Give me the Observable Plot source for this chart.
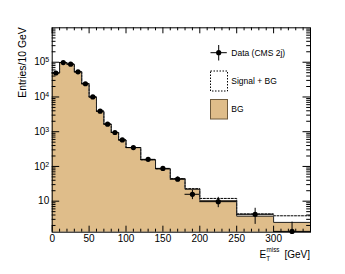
<!DOCTYPE html>
<html><head><meta charset="utf-8">
<script src="https://cdn.jsdelivr.net/npm/d3@7"></script>
<script src="https://cdn.jsdelivr.net/npm/@observablehq/plot@0.6"></script>
<style>
body{margin:0;background:#fff;}
#wrap{position:relative;width:345px;height:274px;font-family:"Liberation Sans",Arial,Helvetica,sans-serif;}
</style></head><body><div id="wrap"></div>
<script>
// ---- data ----
const binEdges   = [0,10,20,30,40,50,60,70,80,90,100,120,140,160,180,200,250,300,350];
const dataCounts = [49000,98000,88000,53000,24000,10000,3900,1650,950,580,350,160,88,43,15.8,9.7,4.2,1.35];
const dataErrors = [220,310,300,230,155,100,62,41,31,24,19,13,9.4,6.6,4.7,3.2,2.05,1.15];
const bgCounts   = [49000,98000,88000,53000,24000,10000,3900,1650,950,580,350,155,85,44,22,10.3,3.7,2.45];
const sigBgCounts= [49000,98000,88000,53000,24000,10000,3900,1650,950,580,350,156,86,45,23,12,4.3,3.8];
const xTicks = [0,50,100,150,200,250,300];
const yMajorTicks = [10,100,1000,10000,100000];
const yTickLabels = ["10","10^2","10^3","10^4","10^5"];
const legendLabels = ["Data (CMS 2j)","Signal + BG","BG"];
const xTitle = {main:"E", sub:"T", sup:"miss", unit:"[GeV]"};
const yTitle = "Entries/10 GeV";

// ---- layout ----
const W=345,H=274, mL=51.7, mR=35, mT=27.3, mB=42.3;
const innerH=H-mT-mB, innerW=W-mL-mR;
const yMin=1.28, yMax=9.8e5;
const fillColor="#dfbd8a";

const n=dataCounts.length;
const bins=dataCounts.map((d,i)=>({x1:binEdges[i],x2:binEdges[i+1],xc:(binEdges[i]+binEdges[i+1])/2,
  data:d,err:dataErrors[i]}));
const stepBg=binEdges.map((e,i)=>({x:e,y:bgCounts[Math.min(i,n-1)]}));
const stepSb=binEdges.map((e,i)=>({x:e,y:sigBgCounts[Math.min(i,n-1)]}));

const xMinor=d3.range(0,351,10).filter(v=>v%50!==0);
const yMinor=[];
for(let p=0;p<=5;p++) for(let m=2;m<=9;m++){const v=m*10**p; if(v>yMin&&v<yMax) yMinor.push(v);}

const tk={stroke:"#000",strokeWidth:1};
const chart=Plot.plot({
  width:W,height:H,marginLeft:mL,marginRight:mR,marginTop:mT,marginBottom:mB,
  style:{fontFamily:"'Liberation Sans',Arial,Helvetica,sans-serif",background:"#fff"},
  x:{domain:[0,350]},
  y:{type:"log",domain:[yMin,yMax]},
  marks:[
    Plot.areaY(stepBg,{x:"x",y1:yMin,y2:"y",curve:"step-after",fill:fillColor}),
    Plot.line(stepSb,{x:"x",y:"y",curve:"step-after",stroke:"#000",strokeWidth:1,strokeDasharray:"2,1.5"}),
    Plot.line(stepBg,{x:"x",y:"y",curve:"step-after",stroke:"#222",strokeWidth:1}),
    Plot.ruleX(bins,{x:"xc",y1:d=>Math.max(d.data-d.err,yMin),y2:d=>d.data+d.err,stroke:"#000",strokeWidth:1}),
    Plot.ruleY(bins,{y:"data",x1:"x1",x2:"x2",stroke:"#000",strokeWidth:1}),
    Plot.dot(bins,{x:"xc",y:"data",r:2.6,fill:"#000",stroke:null}),
    // inward ticks on all four sides
    Plot.tickX(xTicks,{x:d=>d,insetTop:innerH-6,...tk}),
    Plot.tickX(xMinor,{x:d=>d,insetTop:innerH-3,...tk}),
    Plot.tickX(xTicks,{x:d=>d,insetBottom:innerH-6,...tk}),
    Plot.tickX(xMinor,{x:d=>d,insetBottom:innerH-3,...tk}),
    Plot.tickY(yMajorTicks,{y:d=>d,insetRight:innerW-7.5,...tk}),
    Plot.tickY(yMinor,{y:d=>d,insetRight:innerW-3.8,...tk}),
    Plot.tickY(yMajorTicks,{y:d=>d,insetLeft:innerW-7.5,...tk}),
    Plot.tickY(yMinor,{y:d=>d,insetLeft:innerW-3.8,...tk}),
    Plot.frame({stroke:"#000",strokeWidth:1}),
    Plot.axisX(xTicks,{tickSize:0,tickPadding:2.5,fontSize:10,label:null,tickFormat:d=>String(d)}),
    Plot.axisY(yMajorTicks,{tickSize:0,tickPadding:3,fontSize:10,label:null,
      tickFormat:d=>yTickLabels[yMajorTicks.indexOf(d)]})
  ]
});
document.getElementById("wrap").appendChild(chart);

const svg=d3.select(chart);
svg.style("font-family","'Liberation Sans',Arial,Helvetica,sans-serif");
// superscripts on y labels
svg.selectAll('g[aria-label="y-axis tick label"] text').each(function(){
  const t=this.textContent;
  if(t.includes("^")){
    const [b,e]=t.split("^");
    const s=d3.select(this); s.text("");
    s.append("tspan").text(b);
    s.append("tspan").attr("dy","-0.45em").attr("font-size","7").text(e);
  }
});
// axis titles
const ff="'Liberation Sans',Arial,Helvetica,sans-serif";
svg.append("text").attr("transform","translate(26,27.3) rotate(-90)").attr("text-anchor","end")
  .attr("font-size",10.4).attr("font-family",ff).attr("fill","#000").text(yTitle);
const xt=svg.append("g").attr("font-family",ff).attr("fill","#000").attr("text-anchor","start");
xt.append("text").attr("x",259.5).attr("y",258).attr("font-size",10).text(xTitle.main);
xt.append("text").attr("x",266.3).attr("y",260.8).attr("font-size",6.3).text(xTitle.sub);
xt.append("text").attr("x",266.5).attr("y",252.3).attr("font-size",6.3).text(xTitle.sup);
xt.append("text").attr("x",310).attr("y",258).attr("text-anchor","end").attr("font-size",10).text(xTitle.unit);
// legend
const lg=svg.append("g").attr("font-family",ff).attr("font-size",8.5).attr("fill","#000").attr("text-anchor","start");
lg.append("line").attr("x1",210.5).attr("x2",226.8).attr("y1",52.7).attr("y2",52.7).attr("stroke","#000");
lg.append("line").attr("x1",218.7).attr("x2",218.7).attr("y1",45).attr("y2",60.5).attr("stroke","#000");
lg.append("circle").attr("cx",218.7).attr("cy",52.7).attr("r",2.6).attr("fill","#000");
lg.append("text").attr("x",231.3).attr("y",52.7).attr("dy","0.35em").text(legendLabels[0]);
lg.append("rect").attr("x",210.5).attr("y",71).attr("width",17).attr("height",20)
  .attr("fill","none").attr("stroke","#000").attr("stroke-dasharray","1.5,1.5");
lg.append("text").attr("x",231.3).attr("y",81).attr("dy","0.35em").text(legendLabels[1]);
lg.append("rect").attr("x",210.5).attr("y",99.5).attr("width",17).attr("height",19.5)
  .attr("fill",fillColor).attr("stroke","#6e5a3c");
lg.append("text").attr("x",231.3).attr("y",109.3).attr("dy","0.35em").text(legendLabels[2]);
</script></body></html>
